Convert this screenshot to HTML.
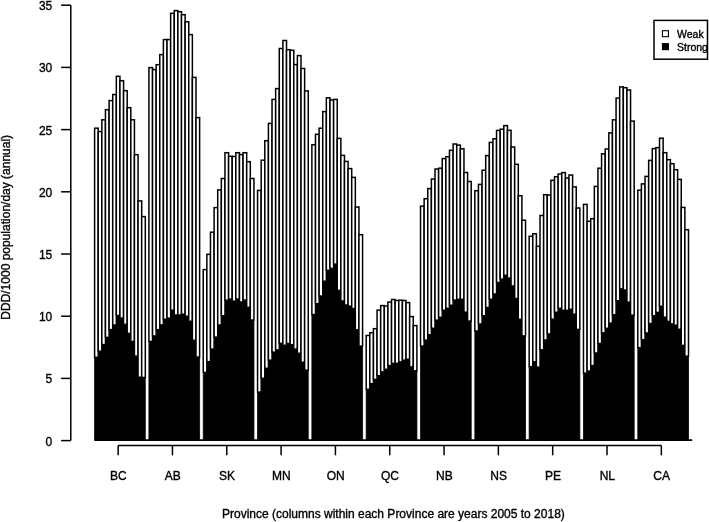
<!DOCTYPE html>
<html><head><meta charset="utf-8"><style>
html,body{margin:0;padding:0;background:#fff;width:709px;height:522px;overflow:hidden}
svg{display:block}
text{font-family:"Liberation Sans",Arial,Helvetica,sans-serif;font-size:12px;fill:#000;stroke:#000;stroke-width:0.35px}
.k{fill:#000;stroke:#000;stroke-width:1.5}
.w{fill:#fff;stroke:#000;stroke-width:1.5}
.l{stroke:#000;stroke-width:1.5;fill:none}
</style></head><body>
<svg width="709" height="522" viewBox="0 0 709 522">
<rect width="709" height="522" fill="#fff"/>
<path d="M94.6,440.25L94.6,357.3L98.22,357.3L98.22,351.2L101.84,351.2L101.84,344.6L105.46,344.6L105.46,337.4L109.09,337.4L109.09,329.6L112.71,329.6L112.71,325L116.33,325L116.33,315.5L119.95,315.5L119.95,318.1L123.57,318.1L123.57,324.4L127.19,324.4L127.19,333.4L130.81,333.4L130.81,341.5L134.43,341.5L134.43,356.1L138.06,356.1L138.06,377.2L141.68,377.2L141.68,377.5L145.3,377.5L145.3,440.25Z" class="k" style="stroke-width:0.8"/>
<rect x="94.6" y="128.2" width="3.62" height="229.1" class="w"/>
<rect x="98.22" y="131.6" width="3.62" height="219.6" class="w"/>
<rect x="101.84" y="119.8" width="3.62" height="224.8" class="w"/>
<rect x="105.46" y="109.7" width="3.62" height="227.7" class="w"/>
<rect x="109.09" y="100.6" width="3.62" height="229" class="w"/>
<rect x="112.71" y="94.5" width="3.62" height="230.5" class="w"/>
<rect x="116.33" y="76.3" width="3.62" height="239.2" class="w"/>
<rect x="119.95" y="80.7" width="3.62" height="237.4" class="w"/>
<rect x="123.57" y="90.7" width="3.62" height="233.7" class="w"/>
<rect x="127.19" y="107.7" width="3.62" height="225.7" class="w"/>
<rect x="130.81" y="119.8" width="3.62" height="221.7" class="w"/>
<rect x="134.43" y="154.7" width="3.62" height="201.4" class="w"/>
<rect x="138.06" y="200.9" width="3.62" height="176.3" class="w"/>
<rect x="141.68" y="216.6" width="3.62" height="160.9" class="w"/>
<line x1="145.3" y1="440.25" x2="148.92" y2="440.25" class="l"/>
<path d="M148.92,440.25L148.92,341.4L152.54,341.4L152.54,336L156.16,336L156.16,329.7L159.78,329.7L159.78,324.9L163.4,324.9L163.4,319.3L167.03,319.3L167.03,318.2L170.65,318.2L170.65,310.2L174.27,310.2L174.27,315L177.89,315L177.89,315L181.51,315L181.51,314.2L185.13,314.2L185.13,316.3L188.75,316.3L188.75,321.3L192.38,321.3L192.38,340.3L196,340.3L196,357.1L199.62,357.1L199.62,440.25Z" class="k" style="stroke-width:0.8"/>
<rect x="148.92" y="67.6" width="3.62" height="273.8" class="w"/>
<rect x="152.54" y="69.6" width="3.62" height="266.4" class="w"/>
<rect x="156.16" y="64.7" width="3.62" height="265" class="w"/>
<rect x="159.78" y="54.6" width="3.62" height="270.3" class="w"/>
<rect x="163.4" y="39.6" width="3.62" height="279.7" class="w"/>
<rect x="167.03" y="39.6" width="3.62" height="278.6" class="w"/>
<rect x="170.65" y="13.3" width="3.62" height="296.9" class="w"/>
<rect x="174.27" y="10.6" width="3.62" height="304.4" class="w"/>
<rect x="177.89" y="11.7" width="3.62" height="303.3" class="w"/>
<rect x="181.51" y="14.7" width="3.62" height="299.5" class="w"/>
<rect x="185.13" y="21.8" width="3.62" height="294.5" class="w"/>
<rect x="188.75" y="34.6" width="3.62" height="286.7" class="w"/>
<rect x="192.38" y="77.4" width="3.62" height="262.9" class="w"/>
<rect x="196" y="117.6" width="3.62" height="239.5" class="w"/>
<line x1="199.62" y1="440.25" x2="203.24" y2="440.25" class="l"/>
<path d="M203.24,440.25L203.24,372.4L206.86,372.4L206.86,361.7L210.48,361.7L210.48,349.1L214.1,349.1L214.1,337.1L217.72,337.1L217.72,325L221.35,325L221.35,315.8L224.97,315.8L224.97,300.2L228.59,300.2L228.59,299.1L232.21,299.1L232.21,301.2L235.83,301.2L235.83,299.1L239.45,299.1L239.45,302L243.07,302L243.07,300.1L246.69,300.1L246.69,307.3L250.32,307.3L250.32,320L253.94,320L253.94,440.25Z" class="k" style="stroke-width:0.8"/>
<rect x="203.24" y="269.6" width="3.62" height="102.8" class="w"/>
<rect x="206.86" y="254.3" width="3.62" height="107.4" class="w"/>
<rect x="210.48" y="232.2" width="3.62" height="116.9" class="w"/>
<rect x="214.1" y="207.6" width="3.62" height="129.5" class="w"/>
<rect x="217.72" y="189.9" width="3.62" height="135.1" class="w"/>
<rect x="221.35" y="178.5" width="3.62" height="137.3" class="w"/>
<rect x="224.97" y="152.7" width="3.62" height="147.5" class="w"/>
<rect x="228.59" y="156.3" width="3.62" height="142.8" class="w"/>
<rect x="232.21" y="156.5" width="3.62" height="144.7" class="w"/>
<rect x="235.83" y="152.7" width="3.62" height="146.4" class="w"/>
<rect x="239.45" y="154.6" width="3.62" height="147.4" class="w"/>
<rect x="243.07" y="152.7" width="3.62" height="147.4" class="w"/>
<rect x="246.69" y="161.7" width="3.62" height="145.6" class="w"/>
<rect x="250.32" y="178.5" width="3.62" height="141.5" class="w"/>
<line x1="253.94" y1="440.25" x2="257.56" y2="440.25" class="l"/>
<path d="M257.56,440.25L257.56,392.1L261.18,392.1L261.18,378.3L264.8,378.3L264.8,368.3L268.42,368.3L268.42,360.2L272.04,360.2L272.04,352.2L275.67,352.2L275.66,349.9L279.29,349.9L279.29,343.3L282.91,343.3L282.91,345.3L286.53,345.3L286.53,343.5L290.15,343.5L290.15,344.7L293.77,344.7L293.77,349.1L297.39,349.1L297.39,353.3L301.01,353.3L301.01,362.3L304.64,362.3L304.64,370.2L308.26,370.2L308.26,440.25Z" class="k" style="stroke-width:0.8"/>
<rect x="257.56" y="190.4" width="3.62" height="201.7" class="w"/>
<rect x="261.18" y="160.2" width="3.62" height="218.1" class="w"/>
<rect x="264.8" y="140.7" width="3.62" height="227.6" class="w"/>
<rect x="268.42" y="123.4" width="3.62" height="236.8" class="w"/>
<rect x="272.04" y="99.4" width="3.62" height="252.8" class="w"/>
<rect x="275.66" y="88.6" width="3.62" height="261.3" class="w"/>
<rect x="279.29" y="48.5" width="3.62" height="294.8" class="w"/>
<rect x="282.91" y="40.5" width="3.62" height="304.8" class="w"/>
<rect x="286.53" y="49.7" width="3.62" height="293.8" class="w"/>
<rect x="290.15" y="50.3" width="3.62" height="294.4" class="w"/>
<rect x="293.77" y="64.6" width="3.62" height="284.5" class="w"/>
<rect x="297.39" y="55.6" width="3.62" height="297.7" class="w"/>
<rect x="301.01" y="68.5" width="3.62" height="293.8" class="w"/>
<rect x="304.64" y="90.9" width="3.62" height="279.3" class="w"/>
<line x1="308.26" y1="440.25" x2="311.88" y2="440.25" class="l"/>
<path d="M311.88,440.25L311.88,314.6L315.5,314.6L315.5,303.7L319.12,303.7L319.12,296L322.74,296L322.74,281.2L326.36,281.2L326.36,270.3L329.98,270.3L329.98,268.4L333.61,268.4L333.61,264.1L337.23,264.1L337.23,290.4L340.85,290.4L340.85,301L344.47,301L344.47,305L348.09,305L348.09,306.1L351.71,306.1L351.71,308.6L355.33,308.6L355.33,329.7L358.95,329.7L358.95,346.1L362.58,346.1L362.58,440.25Z" class="k" style="stroke-width:0.8"/>
<rect x="311.88" y="144.7" width="3.62" height="169.9" class="w"/>
<rect x="315.5" y="134.3" width="3.62" height="169.4" class="w"/>
<rect x="319.12" y="128.2" width="3.62" height="167.8" class="w"/>
<rect x="322.74" y="111.6" width="3.62" height="169.6" class="w"/>
<rect x="326.36" y="97.8" width="3.62" height="172.5" class="w"/>
<rect x="329.98" y="100" width="3.62" height="168.4" class="w"/>
<rect x="333.61" y="99.4" width="3.62" height="164.7" class="w"/>
<rect x="337.23" y="138.4" width="3.62" height="152" class="w"/>
<rect x="340.85" y="155.4" width="3.62" height="145.6" class="w"/>
<rect x="344.47" y="161.4" width="3.62" height="143.6" class="w"/>
<rect x="348.09" y="168.6" width="3.62" height="137.5" class="w"/>
<rect x="351.71" y="177.4" width="3.62" height="131.2" class="w"/>
<rect x="355.33" y="207" width="3.62" height="122.7" class="w"/>
<rect x="358.95" y="234.7" width="3.62" height="111.4" class="w"/>
<line x1="362.58" y1="440.25" x2="366.2" y2="440.25" class="l"/>
<path d="M366.2,440.25L366.2,389.3L369.82,389.3L369.82,383.7L373.44,383.7L373.44,379.4L377.06,379.4L377.06,375.7L380.68,375.7L380.68,371.9L384.3,371.9L384.3,369.3L387.93,369.3L387.93,365.6L391.55,365.6L391.55,363.4L395.17,363.4L395.17,363.3L398.79,363.3L398.79,361.9L402.41,361.9L402.41,360.2L406.03,360.2L406.03,359.3L409.65,359.3L409.65,366.9L413.27,366.9L413.27,370.8L416.9,370.8L416.9,440.25Z" class="k" style="stroke-width:0.8"/>
<rect x="366.2" y="335.5" width="3.62" height="53.8" class="w"/>
<rect x="369.82" y="332.7" width="3.62" height="51" class="w"/>
<rect x="373.44" y="328.7" width="3.62" height="50.7" class="w"/>
<rect x="377.06" y="310.2" width="3.62" height="65.5" class="w"/>
<rect x="380.68" y="305.6" width="3.62" height="66.3" class="w"/>
<rect x="384.3" y="306" width="3.62" height="63.3" class="w"/>
<rect x="387.93" y="302.1" width="3.62" height="63.5" class="w"/>
<rect x="391.55" y="299.5" width="3.62" height="63.9" class="w"/>
<rect x="395.17" y="300.5" width="3.62" height="62.8" class="w"/>
<rect x="398.79" y="300.2" width="3.62" height="61.7" class="w"/>
<rect x="402.41" y="300.5" width="3.62" height="59.7" class="w"/>
<rect x="406.03" y="302.6" width="3.62" height="56.7" class="w"/>
<rect x="409.65" y="316.6" width="3.62" height="50.3" class="w"/>
<rect x="413.27" y="325.6" width="3.62" height="45.2" class="w"/>
<line x1="416.9" y1="440.25" x2="420.52" y2="440.25" class="l"/>
<path d="M420.52,440.25L420.52,346.1L424.14,346.1L424.14,340.1L427.76,340.1L427.76,334.8L431.38,334.8L431.38,328.3L435,328.3L435,320.2L438.62,320.2L438.62,317.3L442.24,317.3L442.24,310.2L445.87,310.2L445.87,308.3L449.49,308.3L449.49,305.3L453.11,305.3L453.11,300.1L456.73,300.1L456.73,299.3L460.35,299.3L460.35,299.3L463.97,299.3L463.97,312.2L467.59,312.2L467.59,321.1L471.22,321.1L471.22,440.25Z" class="k" style="stroke-width:0.8"/>
<rect x="420.52" y="206.1" width="3.62" height="140" class="w"/>
<rect x="424.14" y="198.7" width="3.62" height="141.4" class="w"/>
<rect x="427.76" y="188.6" width="3.62" height="146.2" class="w"/>
<rect x="431.38" y="179.1" width="3.62" height="149.2" class="w"/>
<rect x="435" y="169" width="3.62" height="151.2" class="w"/>
<rect x="438.62" y="168.2" width="3.62" height="149.1" class="w"/>
<rect x="442.24" y="158.6" width="3.62" height="151.6" class="w"/>
<rect x="445.87" y="156.7" width="3.62" height="151.6" class="w"/>
<rect x="449.49" y="150.3" width="3.62" height="155" class="w"/>
<rect x="453.11" y="144" width="3.62" height="156.1" class="w"/>
<rect x="456.73" y="145.1" width="3.62" height="154.2" class="w"/>
<rect x="460.35" y="148.8" width="3.62" height="150.5" class="w"/>
<rect x="463.97" y="172.5" width="3.62" height="139.7" class="w"/>
<rect x="467.59" y="181.5" width="3.62" height="139.6" class="w"/>
<line x1="471.22" y1="440.25" x2="474.84" y2="440.25" class="l"/>
<path d="M474.84,440.25L474.84,331L478.46,331L478.46,324L482.08,324L482.08,315.7L485.7,315.7L485.7,307.6L489.32,307.6L489.32,299.2L492.94,299.2L492.94,294L496.56,294L496.56,282.5L500.19,282.5L500.19,279.1L503.81,279.1L503.81,275.3L507.43,275.3L507.43,278.1L511.05,278.1L511.05,286L514.67,286L514.67,298.5L518.29,298.5L518.29,319.4L521.91,319.4L521.91,335.9L525.53,335.9L525.53,440.25Z" class="k" style="stroke-width:0.8"/>
<rect x="474.84" y="190.7" width="3.62" height="140.3" class="w"/>
<rect x="478.46" y="184.4" width="3.62" height="139.6" class="w"/>
<rect x="482.08" y="170.2" width="3.62" height="145.5" class="w"/>
<rect x="485.7" y="155.6" width="3.62" height="152" class="w"/>
<rect x="489.32" y="142.4" width="3.62" height="156.8" class="w"/>
<rect x="492.94" y="138.8" width="3.62" height="155.2" class="w"/>
<rect x="496.56" y="130.4" width="3.62" height="152.1" class="w"/>
<rect x="500.19" y="129.2" width="3.62" height="149.9" class="w"/>
<rect x="503.81" y="125.6" width="3.62" height="149.7" class="w"/>
<rect x="507.43" y="130.3" width="3.62" height="147.8" class="w"/>
<rect x="511.05" y="147" width="3.62" height="139" class="w"/>
<rect x="514.67" y="164.3" width="3.62" height="134.2" class="w"/>
<rect x="518.29" y="195.7" width="3.62" height="123.7" class="w"/>
<rect x="521.91" y="220.2" width="3.62" height="115.7" class="w"/>
<line x1="525.53" y1="440.25" x2="529.16" y2="440.25" class="l"/>
<path d="M529.16,440.25L529.16,366.7L532.78,366.7L532.78,361.8L536.4,361.8L536.4,367.2L540.02,367.2L540.02,349.8L543.64,349.8L543.64,340L547.26,340L547.26,333.9L550.88,333.9L550.88,319.2L554.51,319.2L554.51,312.3L558.13,312.3L558.13,308.3L561.75,308.3L561.75,310.4L565.37,310.4L565.37,310.4L568.99,310.4L568.99,309.3L572.61,309.3L572.61,314.2L576.23,314.2L576.23,329.4L579.85,329.4L579.85,440.25Z" class="k" style="stroke-width:0.8"/>
<rect x="529.16" y="236.3" width="3.62" height="130.4" class="w"/>
<rect x="532.78" y="233.8" width="3.62" height="128" class="w"/>
<rect x="536.4" y="246.3" width="3.62" height="120.9" class="w"/>
<rect x="540.02" y="215.5" width="3.62" height="134.3" class="w"/>
<rect x="543.64" y="194.7" width="3.62" height="145.3" class="w"/>
<rect x="547.26" y="195" width="3.62" height="138.9" class="w"/>
<rect x="550.88" y="180.3" width="3.62" height="138.9" class="w"/>
<rect x="554.51" y="176.7" width="3.62" height="135.6" class="w"/>
<rect x="558.13" y="174" width="3.62" height="134.3" class="w"/>
<rect x="561.75" y="172.6" width="3.62" height="137.8" class="w"/>
<rect x="565.37" y="178.1" width="3.62" height="132.3" class="w"/>
<rect x="568.99" y="175" width="3.62" height="134.3" class="w"/>
<rect x="572.61" y="186.9" width="3.62" height="127.3" class="w"/>
<rect x="576.23" y="208" width="3.62" height="121.4" class="w"/>
<line x1="579.85" y1="440.25" x2="583.48" y2="440.25" class="l"/>
<path d="M583.48,440.25L583.48,373.1L587.1,373.1L587.1,371.1L590.72,371.1L590.72,365.6L594.34,365.6L594.34,353L597.96,353L597.96,343.5L601.58,343.5L601.58,332.9L605.2,332.9L605.2,328.3L608.82,328.3L608.82,323.1L612.45,323.1L612.45,314.8L616.07,314.8L616.07,300.8L619.69,300.8L619.69,288.9L623.31,288.9L623.31,290L626.93,290L626.93,302.2L630.55,302.2L630.55,315.2L634.17,315.2L634.17,440.25Z" class="k" style="stroke-width:0.8"/>
<rect x="583.48" y="204.4" width="3.62" height="168.7" class="w"/>
<rect x="587.1" y="221.3" width="3.62" height="149.8" class="w"/>
<rect x="590.72" y="218.7" width="3.62" height="146.9" class="w"/>
<rect x="594.34" y="186.4" width="3.62" height="166.6" class="w"/>
<rect x="597.96" y="168.2" width="3.62" height="175.3" class="w"/>
<rect x="601.58" y="153.8" width="3.62" height="179.1" class="w"/>
<rect x="605.2" y="149" width="3.62" height="179.3" class="w"/>
<rect x="608.82" y="132.9" width="3.62" height="190.2" class="w"/>
<rect x="612.45" y="119.8" width="3.62" height="195" class="w"/>
<rect x="616.07" y="98.1" width="3.62" height="202.7" class="w"/>
<rect x="619.69" y="86.9" width="3.62" height="202" class="w"/>
<rect x="623.31" y="87.7" width="3.62" height="202.3" class="w"/>
<rect x="626.93" y="90" width="3.62" height="212.2" class="w"/>
<rect x="630.55" y="121.1" width="3.62" height="194.1" class="w"/>
<line x1="634.17" y1="440.25" x2="637.8" y2="440.25" class="l"/>
<path d="M637.8,440.25L637.8,347.7L641.42,347.7L641.42,339.7L645.04,339.7L645.04,333L648.66,333L648.66,323.6L652.28,323.6L652.28,315.7L655.9,315.7L655.9,312.4L659.52,312.4L659.52,306.3L663.14,306.3L663.14,317.2L666.77,317.2L666.77,321.4L670.39,321.4L670.39,323.9L674.01,323.9L674.01,325.2L677.63,325.2L677.63,329.3L681.25,329.3L681.25,345.4L684.87,345.4L684.87,356.2L688.49,356.2L688.49,440.25Z" class="k" style="stroke-width:0.8"/>
<rect x="637.8" y="190.2" width="3.62" height="157.5" class="w"/>
<rect x="641.42" y="183.9" width="3.62" height="155.8" class="w"/>
<rect x="645.04" y="176.4" width="3.62" height="156.6" class="w"/>
<rect x="648.66" y="160.4" width="3.62" height="163.2" class="w"/>
<rect x="652.28" y="148.6" width="3.62" height="167.1" class="w"/>
<rect x="655.9" y="147.6" width="3.62" height="164.8" class="w"/>
<rect x="659.52" y="138.2" width="3.62" height="168.1" class="w"/>
<rect x="663.14" y="152.7" width="3.62" height="164.5" class="w"/>
<rect x="666.77" y="159.7" width="3.62" height="161.7" class="w"/>
<rect x="670.39" y="163.7" width="3.62" height="160.2" class="w"/>
<rect x="674.01" y="169.7" width="3.62" height="155.5" class="w"/>
<rect x="677.63" y="179.4" width="3.62" height="149.9" class="w"/>
<rect x="681.25" y="207.4" width="3.62" height="138" class="w"/>
<rect x="684.87" y="229.7" width="3.62" height="126.5" class="w"/>
<line x1="688.49" y1="440.25" x2="692.11" y2="440.25" class="l"/>
<line x1="94.6" y1="440.25" x2="692.11" y2="440.25" class="l"/>
<line x1="70.8" y1="5.2" x2="70.8" y2="440.6" class="l"/>
<line x1="61.1" y1="440.6" x2="70.8" y2="440.6" class="l"/>
<text x="52.3" y="445.6" text-anchor="end">0</text>
<line x1="61.1" y1="378.4" x2="70.8" y2="378.4" class="l"/>
<text x="52.3" y="383.4" text-anchor="end">5</text>
<line x1="61.1" y1="316.2" x2="70.8" y2="316.2" class="l"/>
<text x="52.3" y="321.2" text-anchor="end">10</text>
<line x1="61.1" y1="254" x2="70.8" y2="254" class="l"/>
<text x="52.3" y="259" text-anchor="end">15</text>
<line x1="61.1" y1="191.8" x2="70.8" y2="191.8" class="l"/>
<text x="52.3" y="196.8" text-anchor="end">20</text>
<line x1="61.1" y1="129.6" x2="70.8" y2="129.6" class="l"/>
<text x="52.3" y="134.6" text-anchor="end">25</text>
<line x1="61.1" y1="67.4" x2="70.8" y2="67.4" class="l"/>
<text x="52.3" y="72.4" text-anchor="end">30</text>
<line x1="61.1" y1="5.2" x2="70.8" y2="5.2" class="l"/>
<text x="52.3" y="10.2" text-anchor="end">35</text>
<line x1="118.14" y1="445.5" x2="661.33" y2="445.5" class="l"/>
<line x1="118.14" y1="445.5" x2="118.14" y2="455.3" class="l"/>
<text x="118.44" y="479.9" text-anchor="middle">BC</text>
<line x1="172.46" y1="445.5" x2="172.46" y2="455.3" class="l"/>
<text x="172.76" y="479.9" text-anchor="middle">AB</text>
<line x1="226.78" y1="445.5" x2="226.78" y2="455.3" class="l"/>
<text x="227.08" y="479.9" text-anchor="middle">SK</text>
<line x1="281.1" y1="445.5" x2="281.1" y2="455.3" class="l"/>
<text x="281.4" y="479.9" text-anchor="middle">MN</text>
<line x1="335.42" y1="445.5" x2="335.42" y2="455.3" class="l"/>
<text x="335.72" y="479.9" text-anchor="middle">ON</text>
<line x1="389.74" y1="445.5" x2="389.74" y2="455.3" class="l"/>
<text x="390.04" y="479.9" text-anchor="middle">QC</text>
<line x1="444.06" y1="445.5" x2="444.06" y2="455.3" class="l"/>
<text x="444.36" y="479.9" text-anchor="middle">NB</text>
<line x1="498.37" y1="445.5" x2="498.37" y2="455.3" class="l"/>
<text x="498.67" y="479.9" text-anchor="middle">NS</text>
<line x1="552.69" y1="445.5" x2="552.69" y2="455.3" class="l"/>
<text x="552.99" y="479.9" text-anchor="middle">PE</text>
<line x1="607.01" y1="445.5" x2="607.01" y2="455.3" class="l"/>
<text x="607.31" y="479.9" text-anchor="middle">NL</text>
<line x1="661.33" y1="445.5" x2="661.33" y2="455.3" class="l"/>
<text x="661.63" y="479.9" text-anchor="middle">CA</text>
<rect x="654.0" y="20.4" width="53.5" height="38.8" class="w"/>
<rect x="662.45" y="30.7" width="6.0" height="6.0" class="w" style="stroke-width:1.1"/>
<rect x="662.45" y="43.65" width="6.0" height="6.0" class="k" style="stroke-width:1.1"/>
<text x="677.0" y="37.7" style="font-size:10.5px">Weak</text>
<text x="677.0" y="50.5" style="font-size:10.5px">Strong</text>
<text x="393.4" y="517.5" text-anchor="middle">Province (columns within each Province are years 2005 to 2018)</text>
<text transform="translate(10.2,227.3) rotate(-90)" text-anchor="middle">DDD/1000 population/day (annual)</text>
</svg>
</body></html>
